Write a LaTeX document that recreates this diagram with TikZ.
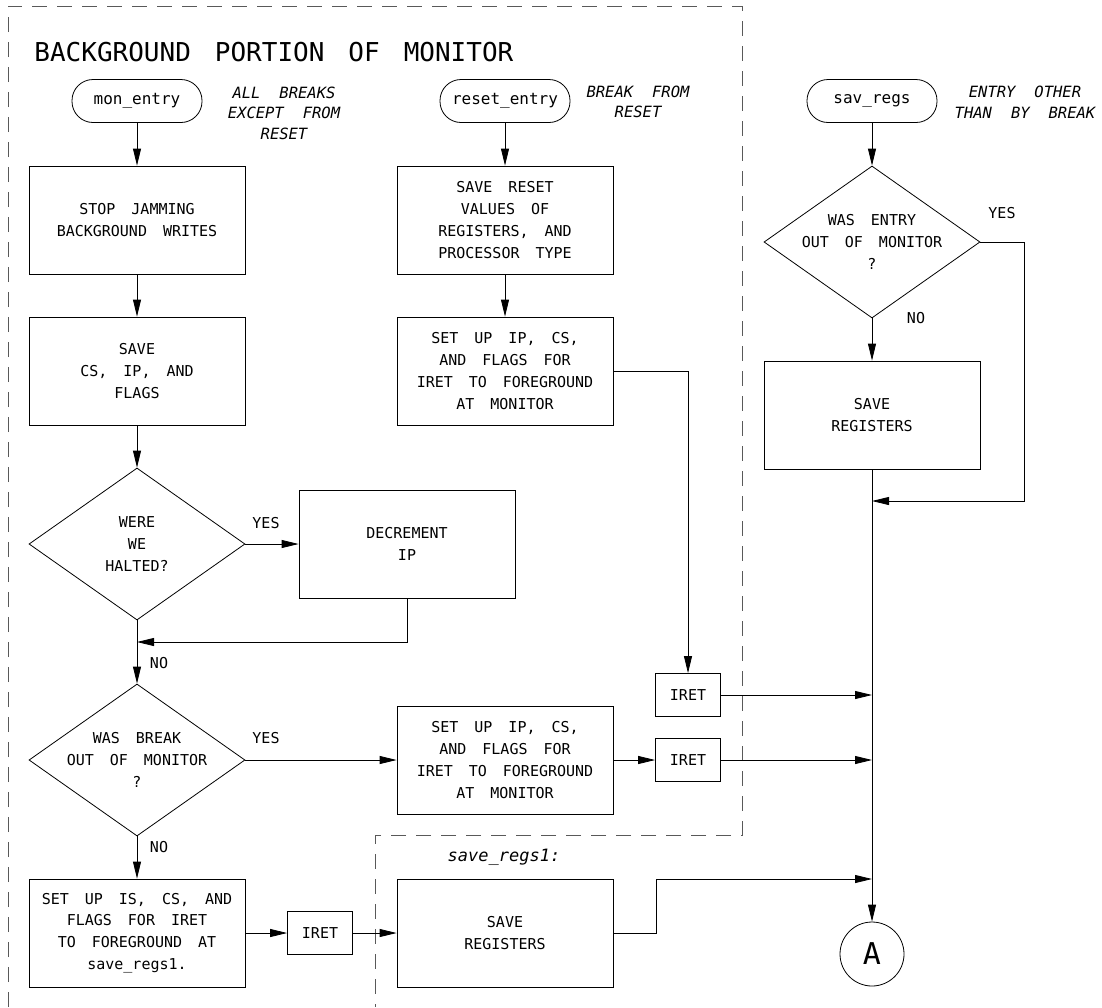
\documentclass[tikz,border=0pt]{standalone}
\usepackage{fontspec}
\setmonofont{DejaVu Sans Mono}
\usetikzlibrary{shapes.geometric,arrows.meta}
\newcommand\boxfont{\ttfamily\fontsize{15}{21.7}\selectfont\spaceskip16pt\relax}
\newcommand\notefont{\ttfamily\itshape\fontsize{15.5}{20.5}\selectfont\spaceskip19pt\relax}
\newcommand\titlefont{\ttfamily\fontsize{26}{30}\selectfont\spaceskip24pt\relax}

\begin{document}
\begin{tikzpicture}[x=1pt, y=-1pt, line width=0.8pt,
        >={Triangle[length=17pt,width=8pt]},
        every node/.style={align=center, inner sep=0pt, font=\boxfont},
        term/.style={draw, rounded corners=21pt, minimum width=130pt, minimum height=43pt,
            font=\ttfamily\fontsize{16}{20}\selectfont},
        box/.style={draw, minimum width=216pt, minimum height=108pt},
        iret/.style={draw, minimum width=65pt, minimum height=43pt},
        decision/.style={draw, diamond, minimum width=216pt, minimum height=152pt},
        note/.style={font=\notefont}]
            \useasboundingbox (0,0) rectangle (1102,1007);
            \draw[dash pattern=on 15pt off 10pt, black!65] (8,1007) |- (742,6) -- (742,835) -| (375,1007);
            \node[anchor=base west, font=\titlefont] (0) at (34,61) {BACKGROUND PORTION OF MONITOR};
            \node[term] (1) at (137,101) {mon\_entry};
            \node[term] (2) at (505,101) {reset\_entry};
            \node[term] (3) at (872,101) {sav\_regs};
            \node[note] at (284,113) {ALL BREAKS\\EXCEPT FROM\\RESET};
            \node[note] at (638,102) {BREAK FROM\\RESET};
            \node[note] at (1025,102) {ENTRY OTHER\\THAN BY BREAK};
            \node[box] (4) at (137,220) {STOP JAMMING\\BACKGROUND WRITES};
            \node[box] (5) at (137,371) {SAVE\\CS, IP, AND\\FLAGS};
            \node[decision] (6) at (137,544) {};
            \node at (6) {WERE\\WE\\HALTED?};
            \node[box] (7) at (407,544) {DECREMENT\\IP};
            \node[decision] (8) at (137,760) {};
            \node at (8) {WAS BREAK\\OUT OF MONITOR\\?};
            \node[box] (9) at (137,933) {SET UP IS, CS, AND\\FLAGS FOR IRET\\TO FOREGROUND AT\\save\_regs1.};
            \node[iret] (10) at (320,933) {IRET};
            \node[box] (11) at (505,933) {SAVE\\REGISTERS};
            \node[font=\ttfamily\itshape\fontsize{17}{20}\selectfont] at (504,857) {save\_regs1:};
            \node[box] (12) at (505,760) {SET UP IP, CS,\\AND FLAGS FOR\\IRET TO FOREGROUND\\AT MONITOR};
            \node[iret] (13) at (688,760) {IRET};
            \node[iret] (14) at (688,695) {IRET};
            \node[box] (15) at (505,220) {SAVE RESET\\VALUES OF\\REGISTERS, AND\\PROCESSOR TYPE};
            \node[box] (16) at (505,371) {SET UP IP, CS,\\AND FLAGS FOR\\IRET TO FOREGROUND\\AT MONITOR};
            \node[decision] (17) at (872,242) {};
            \node at (17) {WAS ENTRY\\OUT OF MONITOR\\?};
            \node[box] (18) at (872,415) {SAVE\\REGISTERS};
            \node[draw, circle, minimum size=64pt, font=\ttfamily\fontsize{30}{30}\selectfont] (19) at (872,954) {A};
            \coordinate (20) at (137,642);
            \coordinate (21) at (872,501);
            \coordinate (22) at (872,695);
            \coordinate (23) at (872,760);
            \coordinate (24) at (872,879);
            \node at (266,523) {YES};
            \node at (266,738) {YES};
            \node at (1002,213) {YES};
            \node at (159,663) {NO};
            \node at (159,847) {NO};
            \node at (916,318) {NO};
            \draw[->] (1) -- (4);
            \draw[->] (4) -- (5);
            \draw[->] (5) -- (6);
            \draw[->] (6) -- (7);
            \draw[->] (7) |- (20);
            \draw[->] (6) -- (8);
            \draw[->] (8) -- (12);
            \draw[->] (8) -- (9);
            \draw[->] (9) -- (10);
            \draw[->] (10) -- (11);
            \draw[->] (11.east) -- ++(43,0) |- (24);
            \draw[->] (12) -- (13);
            \draw[->] (13) -- (23);
            \draw[->] (14) -- (22);
            \draw[->] (2) -- (15);
            \draw[->] (15) -- (16);
            \draw[->] (16.east) -| (14);
            \draw[->] (3) -- (17);
            \draw[->] (17) -- (18);
            \draw[->] (17.east) -- ++(44,0) |- (21);
            % \draw[->,draw=red] (18) -- (21);
            \draw[->] (18) -- (19);
        \end{tikzpicture}
\end{document}
